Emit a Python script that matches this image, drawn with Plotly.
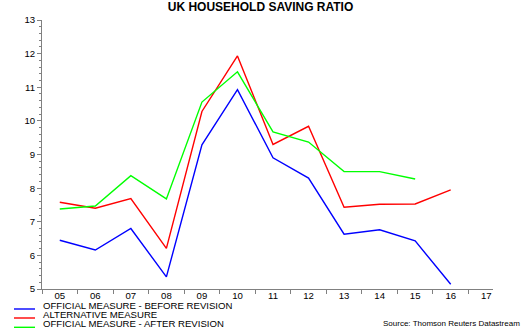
import plotly.graph_objects as go

years = [2005, 2006, 2007, 2008, 2009, 2010, 2011, 2012, 2013, 2014, 2015, 2016]
tick_years = [2005, 2006, 2007, 2008, 2009, 2010, 2011, 2012, 2013, 2014, 2015, 2016, 2017]
tick_labels = ["05", "06", "07", "08", "09", "10", "11", "12", "13", "14", "15", "16", "17"]

before_revision = [6.45, 6.16, 6.80, 5.36, 9.29, 10.93, 8.90, 8.30, 6.63, 6.76, 6.43, 5.14]
alternative = [7.58, 7.40, 7.69, 6.21, 10.28, 11.93, 9.30, 9.84, 7.43, 7.52, 7.53, 7.95]
after_revision = [7.38, 7.47, 8.37, 7.68, 10.56, 11.46, 9.67, 9.37, 8.49, 8.49, 8.27]

series_names = ["OFFICIAL MEASURE - BEFORE REVISION", "ALTERNATIVE MEASURE",
                "OFFICIAL MEASURE - AFTER REVISION"]
series_colors = ["#0000FF", "#FF0000", "#00FF00"]
series_values = [before_revision, alternative, after_revision]

FONT = "Liberation Sans, Arial, sans-serif"

fig = go.Figure()
for name, color, vals in zip(series_names, series_colors, series_values):
    fig.add_trace(go.Scatter(x=years[:len(vals)], y=vals, mode="lines", name=name,
                             line=dict(color=color, width=1.4), showlegend=False))

# Manual compact legend (paper coordinates; plot area is 451 x 269 px)
legend_y = [305, 314, 323.3]
for name, color, yy in zip(series_names, series_colors, legend_y):
    line_y = (331 - (yy + 4) - 42) / 269
    fig.add_shape(type="line", xref="paper", yref="paper",
                  x0=(14 - 42) / 451, x1=(35 - 42) / 451,
                  y0=line_y, y1=line_y,
                  line=dict(color=color, width=1.4))
    fig.add_annotation(text=name, xref="paper", yref="paper",
                       x=(41 - 42) / 451, y=(331 - yy - 42) / 269,
                       xanchor="left", yanchor="middle", showarrow=False,
                       font=dict(family=FONT, size=9.6, color="#000000"))

fig.add_annotation(text="Source: Thomson Reuters Datastream", xref="paper", yref="paper",
                   x=(522 - 42) / 451, y=(331 - 323.3 - 42) / 269,
                   xanchor="right", yanchor="middle", showarrow=False,
                   font=dict(family=FONT, size=8, color="#000000"))

fig.update_layout(
    width=530, height=331,
    margin=dict(l=42, r=37, t=20, b=42),
    paper_bgcolor="white", plot_bgcolor="white",
    title=dict(text="<b>UK HOUSEHOLD SAVING RATIO</b>", x=260.5 / 530, xanchor="center",
               y=1 - 7 / 331, yanchor="middle",
               font=dict(family=FONT, size=12, color="#000000")),
    font=dict(family=FONT, size=9.6, color="#000000"),
)

fig.update_xaxes(
    range=[2004.5, 2017.19], tickvals=tick_years, ticktext=tick_labels,
    ticks="", showgrid=False, zeroline=False,
    showline=True, linecolor="#808080", linewidth=1,
    minor=dict(tick0=2004.5, dtick=1, ticks="outside", ticklen=4,
               tickcolor="#808080", showgrid=False),
    tickfont=dict(family=FONT, size=9.6),
    ticklabelstandoff=-3,
)
fig.update_yaxes(
    range=[5, 13], dtick=1, ticks="outside", ticklen=4, tickcolor="#808080",
    showgrid=False, zeroline=False,
    showline=True, linecolor="#808080", linewidth=1,
    minor=dict(dtick=0.2, ticks="outside", ticklen=2, tickcolor="#808080", showgrid=False),
    tickfont=dict(family=FONT, size=9.6),
)

fig.write_html("out.html")
